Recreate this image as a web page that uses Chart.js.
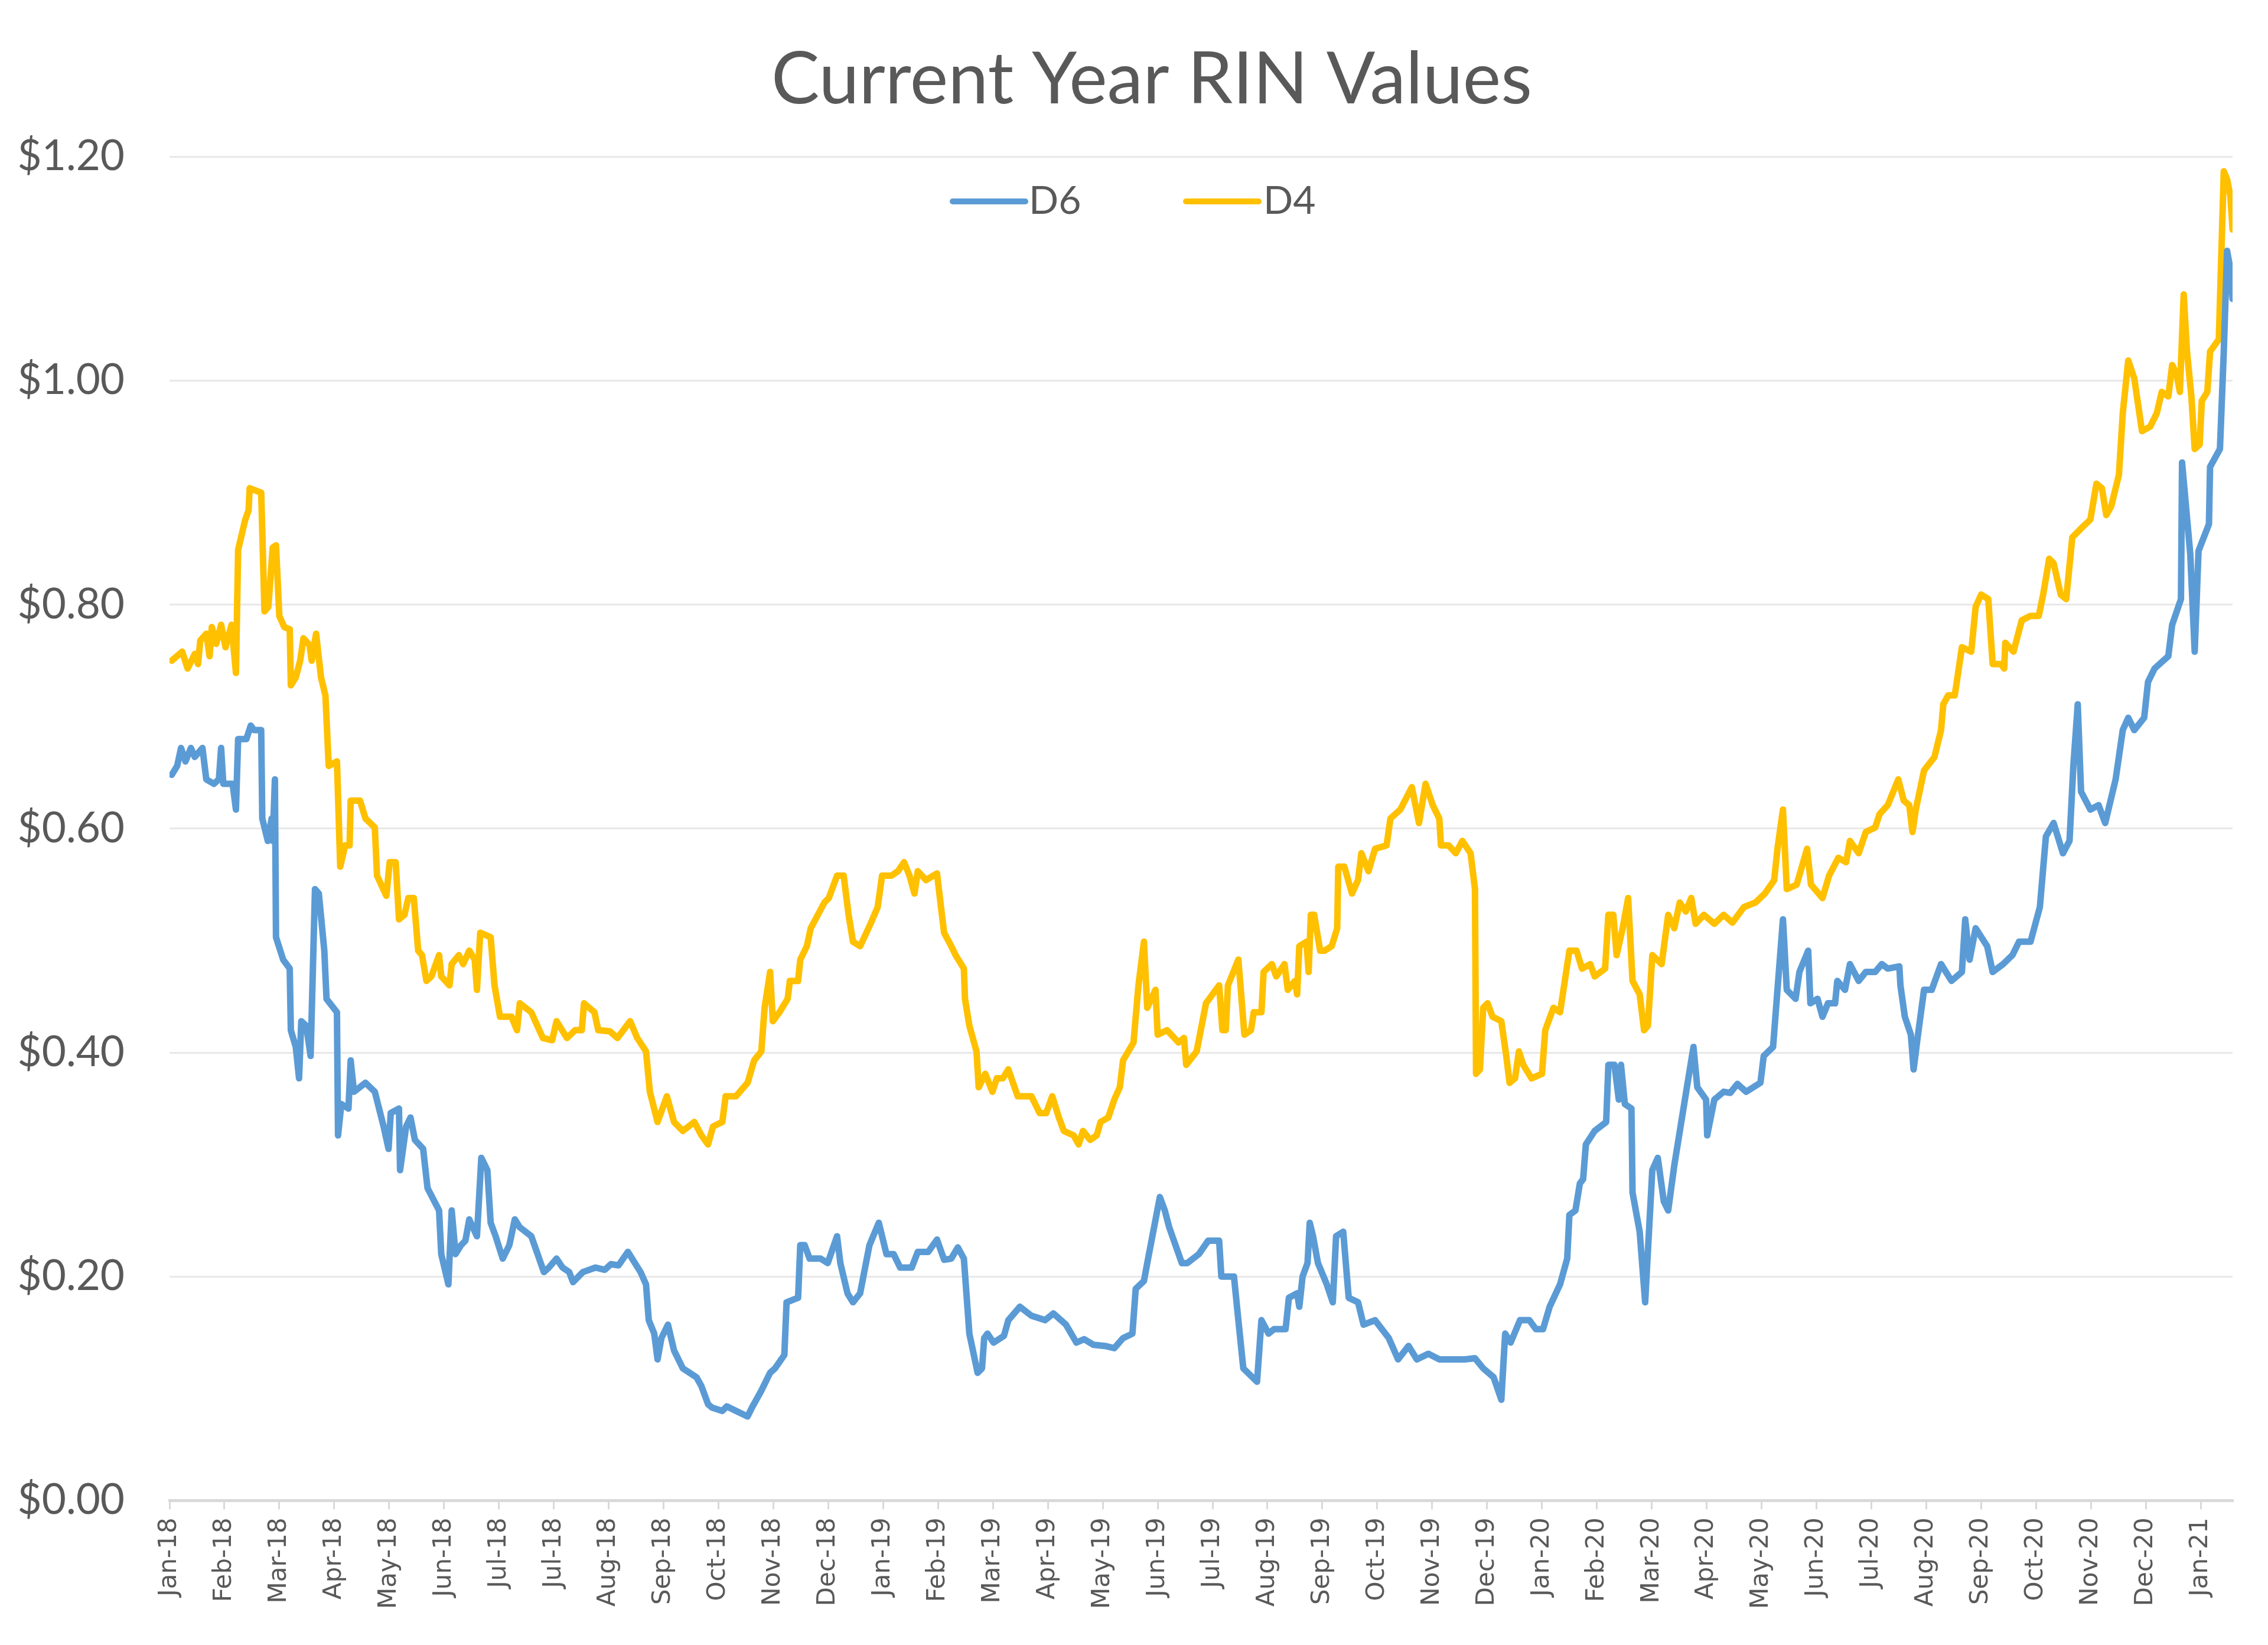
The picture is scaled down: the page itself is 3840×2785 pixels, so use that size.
<!DOCTYPE html>
<html>
<head>
<meta charset="utf-8">
<script src="https://cdn.jsdelivr.net/npm/chart.js@4.4.1/dist/chart.umd.min.js"></script>
<style>
html,body{margin:0;padding:0;background:#ffffff;}
#wrap{width:3840px;height:2785px;}
</style>
</head>
<body>
<div id="wrap"><canvas id="c" width="3840" height="2785"></canvas></div>
<script>
const chartTitle = 'Current Year RIN Values';

// Axis tick labels (one every 30 days starting 2 Jan 2018)
const xTickLabels = ['Jan-18','Feb-18','Mar-18','Apr-18','May-18','Jun-18','Jul-18','Jul-18','Aug-18','Sep-18','Oct-18','Nov-18','Dec-18',
  'Jan-19','Feb-19','Mar-19','Apr-19','May-19','Jun-19','Jul-19','Aug-19','Sep-19','Oct-19','Nov-19','Dec-19',
  'Jan-20','Feb-20','Mar-20','Apr-20','May-20','Jun-20','Jul-20','Aug-20','Sep-20','Oct-20','Nov-20','Dec-20','Jan-21'];
const xAxisMax = 37.58;           // end of the date axis, in 30-day periods
const yTickValues = [0, 0.2, 0.4, 0.6, 0.8, 1.0, 1.2];

// D6: time in 30-day periods since 2 Jan 2018, value in $
const d6X = [0.04,0.14,0.21,0.29,0.39,0.46,0.60,0.67,0.81,0.90,0.94,0.98,1.15,1.21,1.25,1.40,1.48,1.54,1.67,1.69,1.79,1.86,1.88,1.92,1.94,2.07,2.19,2.21,2.30,2.36,2.40,2.49,2.57,2.65,2.72,2.82,2.86,3.05,3.07,3.13,3.26,3.30,3.36,3.57,3.74,3.90,3.99,4.03,4.18,4.20,4.31,4.39,4.47,4.62,4.70,4.91,4.95,5.08,5.14,5.21,5.31,5.39,5.46,5.60,5.68,5.79,5.85,5.94,6.07,6.19,6.29,6.38,
  6.59,6.82,6.91,7.05,7.16,7.28,7.35,7.53,7.76,7.93,8.04,8.18,8.35,8.58,8.68,8.73,8.83,8.89,8.96,9.08,9.19,9.35,9.60,9.69,9.81,9.88,10.07,10.15,10.36,10.53,10.61,10.78,10.94,11.03,11.20,11.24,11.45,11.49,11.57,11.66,11.86,11.99,12.16,12.22,12.35,12.45,12.58,
  12.75,12.92,13.06,13.19,13.31,13.52,13.63,13.82,13.98,14.11,14.24,14.36,14.47,14.57,14.72,14.80,14.84,14.90,15.01,15.20,15.28,15.49,15.70,15.95,16.10,16.33,16.52,16.66,16.83,17.04,17.21,17.37,17.54,17.60,17.75,17.81,18.04,18.13,18.21,18.44,18.54,18.75,18.92,
  19.12,19.16,19.39,19.47,19.56,19.81,19.89,20.02,20.12,20.33,20.39,20.54,20.58,20.64,20.73,20.77,20.83,20.92,21.08,21.19,21.25,21.38,21.48,21.65,21.75,21.96,22.21,22.38,22.57,22.72,22.93,23.13,23.39,23.59,23.78,23.93,24.12,24.26,24.33,24.43,24.60,24.77,24.89,25.02,25.14,25.33,
  25.46,25.50,25.61,25.69,25.75,25.80,25.96,26.17,26.21,26.32,26.40,26.44,26.51,26.63,26.65,26.78,26.88,27.01,27.11,27.22,27.30,27.41,27.64,27.76,27.83,27.99,28.01,28.14,28.31,28.43,28.56,28.72,28.98,29.04,29.21,29.29,29.39,29.46,29.62,29.69,29.85,29.89,30.02,30.11,30.21,30.34,30.38,30.52,30.61,30.77,30.90,31.07,31.19,31.30,31.51,31.53,31.61,31.72,31.77,
  31.85,31.96,32.10,32.27,32.46,32.65,32.71,32.79,32.90,33.11,33.21,33.40,33.57,33.69,33.90,34.07,34.18,34.32,34.49,34.61,34.68,34.76,34.82,34.99,35.14,35.26,35.45,35.58,35.68,35.79,35.97,36.04,36.16,36.41,36.48,36.64,36.66,36.81,36.89,36.96,37.15,37.17,37.35,37.42,37.48,37.54,37.58];
const d6Values = [0.648,0.656,0.672,0.660,0.672,0.664,0.672,0.644,0.640,0.644,0.672,0.640,0.640,0.617,0.680,0.680,0.692,0.688,0.688,0.609,0.589,0.609,0.589,0.644,0.503,0.483,0.475,0.420,0.405,0.377,0.428,0.424,0.397,0.546,0.542,0.491,0.448,0.436,0.326,0.354,0.350,0.393,0.365,0.373,0.365,0.334,0.314,0.346,0.350,0.295,0.334,0.342,0.322,0.314,0.279,0.259,0.220,0.193,0.259,0.220,0.228,0.232,0.251,0.236,0.306,0.295,0.248,0.236,0.216,0.228,0.251,0.244,
  0.236,0.204,0.208,0.216,0.208,0.204,0.195,0.204,0.208,0.206,0.211,0.210,0.222,0.204,0.193,0.161,0.149,0.126,0.145,0.157,0.134,0.118,0.110,0.102,0.086,0.083,0.080,0.084,0.079,0.075,0.083,0.098,0.114,0.118,0.130,0.177,0.181,0.228,0.228,0.216,0.216,0.212,0.236,0.212,0.185,0.177,0.185,
  0.228,0.248,0.220,0.220,0.208,0.208,0.222,0.222,0.233,0.215,0.216,0.226,0.216,0.149,0.114,0.118,0.145,0.149,0.141,0.147,0.161,0.173,0.165,0.161,0.167,0.157,0.141,0.144,0.139,0.138,0.136,0.145,0.149,0.189,0.196,0.212,0.271,0.259,0.244,0.212,0.212,0.220,0.232,
  0.232,0.200,0.200,0.161,0.118,0.106,0.161,0.149,0.153,0.153,0.181,0.185,0.173,0.200,0.212,0.248,0.236,0.212,0.193,0.177,0.236,0.240,0.181,0.177,0.157,0.161,0.145,0.126,0.138,0.126,0.131,0.126,0.126,0.126,0.127,0.118,0.110,0.090,0.149,0.141,0.161,0.161,0.153,0.153,0.173,0.193,
  0.216,0.255,0.259,0.283,0.287,0.318,0.330,0.338,0.389,0.389,0.358,0.389,0.354,0.350,0.275,0.240,0.177,0.295,0.306,0.267,0.259,0.299,0.369,0.405,0.369,0.358,0.326,0.358,0.365,0.364,0.372,0.365,0.373,0.397,0.405,0.456,0.519,0.456,0.448,0.472,0.491,0.444,0.448,0.432,0.444,0.444,0.464,0.456,0.479,0.464,0.472,0.472,0.479,0.475,0.477,0.460,0.432,0.416,0.385,
  0.416,0.456,0.456,0.479,0.464,0.472,0.519,0.483,0.511,0.495,0.472,0.479,0.487,0.499,0.499,0.530,0.593,0.605,0.578,0.589,0.656,0.711,0.633,0.617,0.621,0.605,0.644,0.688,0.699,0.688,0.699,0.731,0.743,0.754,0.782,0.805,0.927,0.845,0.758,0.848,0.872,0.923,0.939,1.026,1.116,1.100,1.073];

// D4: time in 30-day periods since 2 Jan 2018, value in $
const d4X = [0.04,0.23,0.33,0.46,0.52,0.56,0.67,0.73,0.77,0.85,0.94,1.02,1.13,1.21,1.25,1.38,1.44,1.46,1.67,1.73,1.80,1.88,1.94,2.00,2.09,2.19,2.21,2.30,2.38,2.44,2.55,2.59,2.67,2.76,2.84,2.90,3.05,3.11,3.20,3.28,3.30,3.47,3.57,3.74,3.78,3.95,4.01,4.12,4.18,4.28,4.35,4.45,4.53,4.60,4.68,4.77,4.91,4.95,5.10,5.14,5.27,5.35,5.46,5.56,5.60,5.66,5.85,5.92,6.02,6.23,6.33,6.38,
  6.59,6.80,6.97,7.05,7.24,7.39,7.51,7.55,7.74,7.81,8.02,8.16,8.39,8.52,8.68,8.75,8.89,9.06,9.19,9.35,9.56,9.69,9.81,9.90,10.07,10.13,10.32,10.53,10.65,10.78,10.84,10.94,10.99,11.11,11.26,11.30,11.45,11.49,11.61,11.68,11.93,12.01,12.16,12.28,12.37,12.45,12.58,
  12.77,12.90,12.98,13.15,13.27,13.38,13.48,13.57,13.63,13.78,13.98,14.07,14.11,14.24,14.32,14.47,14.49,14.57,14.70,14.74,14.86,14.99,15.07,15.18,15.28,15.45,15.70,15.85,15.97,16.08,16.20,16.29,16.47,16.56,16.64,16.77,16.89,16.96,17.10,17.21,17.31,17.37,17.56,17.65,17.75,17.81,17.96,18.00,18.17,18.38,18.48,18.52,18.71,18.88,
  19.12,19.18,19.24,19.28,19.47,19.58,19.70,19.75,19.89,19.93,20.08,20.16,20.31,20.37,20.50,20.54,20.58,20.71,20.75,20.79,20.85,20.96,21.04,21.17,21.27,21.29,21.40,21.54,21.65,21.71,21.84,21.96,22.17,22.24,22.42,22.63,22.76,22.88,23.01,23.13,23.16,23.30,23.43,23.55,23.70,23.78,23.80,23.87,23.93,24.01,24.10,24.26,24.35,24.41,24.51,24.58,24.66,24.81,25.00,25.06,25.21,25.33,
  25.50,25.63,25.73,25.88,25.96,26.15,26.21,26.30,26.36,26.47,26.57,26.65,26.78,26.86,26.93,27.01,27.18,27.30,27.41,27.51,27.62,27.72,27.80,27.95,28.14,28.31,28.47,28.68,28.89,29.06,29.23,29.29,29.39,29.46,29.64,29.83,29.90,30.11,30.23,30.40,30.54,30.61,30.77,30.90,31.07,31.15,31.30,31.49,31.59,
  31.69,31.75,31.81,31.96,32.15,32.27,32.31,32.40,32.52,32.65,32.82,32.90,33.00,33.13,33.21,33.36,33.42,33.44,33.59,33.74,33.90,34.05,34.13,34.24,34.32,34.45,34.55,34.66,34.82,34.99,35.10,35.20,35.28,35.37,35.51,35.58,35.68,35.79,35.93,36.08,36.20,36.29,36.41,36.48,36.56,36.62,36.69,36.75,36.83,36.89,36.98,37.02,37.12,37.17,37.33,37.42,37.48,37.54,37.58];
const d4Values = [0.750,0.758,0.743,0.756,0.747,0.768,0.774,0.754,0.780,0.765,0.782,0.762,0.782,0.739,0.849,0.876,0.884,0.904,0.900,0.794,0.798,0.851,0.853,0.790,0.780,0.778,0.728,0.735,0.750,0.770,0.764,0.750,0.774,0.735,0.719,0.656,0.660,0.566,0.585,0.585,0.625,0.625,0.609,0.601,0.558,0.540,0.570,0.570,0.519,0.523,0.538,0.538,0.491,0.487,0.464,0.468,0.487,0.468,0.460,0.479,0.487,0.479,0.491,0.483,0.456,0.507,0.503,0.460,0.432,0.432,0.420,0.444,
  0.436,0.413,0.411,0.428,0.413,0.420,0.420,0.444,0.436,0.420,0.419,0.413,0.428,0.413,0.401,0.365,0.338,0.361,0.338,0.330,0.338,0.326,0.318,0.334,0.338,0.361,0.361,0.373,0.393,0.401,0.440,0.472,0.428,0.436,0.448,0.464,0.464,0.483,0.495,0.511,0.534,0.538,0.558,0.558,0.523,0.499,0.495,
  0.515,0.530,0.558,0.558,0.562,0.570,0.558,0.542,0.562,0.554,0.560,0.523,0.507,0.495,0.487,0.475,0.448,0.424,0.401,0.369,0.381,0.365,0.377,0.377,0.385,0.361,0.361,0.346,0.346,0.361,0.342,0.330,0.326,0.318,0.330,0.322,0.326,0.338,0.342,0.358,0.369,0.393,0.409,0.460,0.499,0.440,0.456,0.416,0.420,0.409,0.413,0.389,0.401,0.444,
  0.460,0.420,0.420,0.460,0.483,0.416,0.420,0.436,0.436,0.472,0.479,0.468,0.479,0.456,0.464,0.452,0.495,0.499,0.472,0.523,0.523,0.491,0.491,0.495,0.511,0.566,0.566,0.542,0.554,0.578,0.562,0.582,0.585,0.609,0.617,0.637,0.605,0.640,0.621,0.609,0.585,0.585,0.578,0.589,0.578,0.546,0.381,0.385,0.440,0.444,0.432,0.428,0.397,0.373,0.377,0.401,0.389,0.377,0.381,0.420,0.440,0.436,
  0.491,0.491,0.475,0.479,0.468,0.475,0.523,0.523,0.487,0.511,0.538,0.464,0.452,0.420,0.424,0.487,0.479,0.523,0.511,0.534,0.526,0.538,0.515,0.523,0.515,0.523,0.516,0.530,0.534,0.542,0.554,0.582,0.617,0.546,0.550,0.582,0.550,0.538,0.558,0.574,0.570,0.589,0.578,0.597,0.601,0.613,0.621,0.644,0.625,
  0.621,0.597,0.617,0.652,0.664,0.688,0.711,0.719,0.719,0.762,0.758,0.798,0.809,0.805,0.747,0.747,0.743,0.766,0.758,0.786,0.790,0.790,0.809,0.841,0.837,0.809,0.805,0.860,0.868,0.876,0.908,0.904,0.880,0.888,0.916,0.971,1.018,1.002,0.955,0.959,0.971,0.990,0.986,1.014,1.006,0.990,1.077,1.026,0.986,0.939,0.943,0.982,0.990,1.026,1.037,1.187,1.180,1.165,1.135];

const seriesNames = ['D6', 'D4'];
const seriesColors = ['#5B9BD5', '#FFC000'];

const toPoints = (xs, ys) => xs.map((x, i) => ({ x: x, y: ys[i] }));

// Legend drawn inside the plot area, as in the original
const inlineLegend = {
  id: 'inlineLegend',
  afterLayout(chart) {
    // the original title sits slightly right of the canvas centre
    if (chart.titleBlock) { chart.titleBlock.left += 100; }
  },
  afterDraw(chart) {
    const ctx = chart.ctx;
    const cx = chart.width / 2;
    const y = 341;
    const slots = [{ lineStart: -307, lineEnd: -184, text: -178 }, { lineStart: 88, lineEnd: 211, text: 219 }];
    ctx.save();
    chart.data.datasets.forEach((ds, i) => {
      const s = slots[i];
      ctx.strokeStyle = ds.borderColor;
      ctx.lineWidth = 10;
      ctx.lineCap = 'round';
      ctx.beginPath();
      ctx.moveTo(cx + s.lineStart, y);
      ctx.lineTo(cx + s.lineEnd, y);
      ctx.stroke();
      ctx.fillStyle = '#595959';
      ctx.font = '66px Lato';
      ctx.textBaseline = 'middle';
      ctx.textAlign = 'left';
      ctx.fillText(ds.label, cx + s.text, y);
    });
    ctx.restore();
  }
};

function draw() {
  const ctx = document.getElementById('c').getContext('2d');
  new Chart(ctx, {
    type: 'line',
    data: {
      datasets: [
        { label: seriesNames[0], data: toPoints(d6X, d6Values), borderColor: seriesColors[0], backgroundColor: seriesColors[0] },
        { label: seriesNames[1], data: toPoints(d4X, d4Values), borderColor: seriesColors[1], backgroundColor: seriesColors[1] }
      ]
    },
    options: {
      responsive: false,
      animation: false,
      devicePixelRatio: 1,
      parsing: false,
      layout: { padding: { left: 20, right: 60, top: 0, bottom: 47 } },
      elements: {
        line: { borderWidth: 11, tension: 0, borderJoinStyle: 'round', borderCapStyle: 'round', fill: false },
        point: { radius: 0, hoverRadius: 0 }
      },
      plugins: {
        title: {
          display: true,
          text: chartTitle,
          color: '#595959',
          font: { family: 'Lato', size: 122, weight: 'normal', lineHeight: 1.2 },
          padding: { top: 62, bottom: 57 }
        },
        legend: { display: false },
        tooltip: { enabled: false }
      },
      scales: {
        x: {
          type: 'linear',
          min: 0,
          max: xAxisMax,
          afterBuildTicks: (axis) => {
            axis.ticks = xTickLabels.map((_, i) => ({ value: i }));
          },
          ticks: {
            autoSkip: false,
            maxRotation: 90,
            minRotation: 90,
            padding: 14,
            color: '#595959',
            font: { family: 'DejaVu Sans', size: 42 },
            callback: (v) => xTickLabels[v] !== undefined ? xTickLabels[v] : ''
          },
          grid: { drawOnChartArea: false, drawTicks: true, tickLength: 15, color: '#d9d9d9', lineWidth: 3 },
          border: { display: true, color: '#d9d9d9', width: 5 }
        },
        y: {
          min: 0,
          max: 1.2,
          afterBuildTicks: (axis) => {
            axis.ticks = yTickValues.map(v => ({ value: v }));
          },
          afterFit: (axis) => { axis.width = 267; },
          ticks: {
            padding: 76,
            color: '#595959',
            font: { family: 'Lato', size: 71 },
            callback: (v) => '$' + Number(v).toFixed(2)
          },
          grid: { color: '#e8e8e8', lineWidth: 3, drawTicks: false },
          border: { display: false }
        }
      }
    },
    plugins: [inlineLegend]
  });
}

Promise.all([
  document.fonts.load('122px Lato'),
  document.fonts.load('42px "DejaVu Sans"')
]).then(draw, draw);
</script>
</body>
</html>
